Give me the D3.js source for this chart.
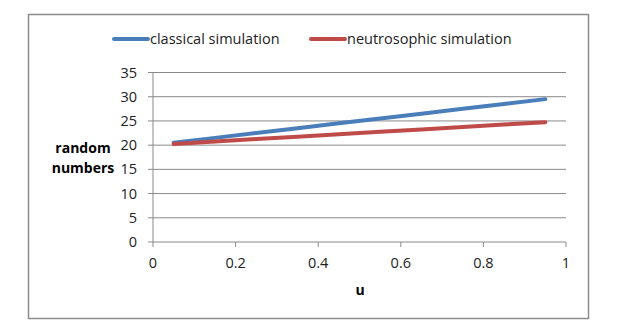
<!DOCTYPE html>
<html lang="en">
<head>
    <meta charset="UTF-8">
    <title>simulation</title>
    <script src="https://cdn.jsdelivr.net/npm/d3@7"></script>
    <style>
        body { margin: 0; background: #fff; }
        text { font-family: "Open Sans", "Liberation Sans", sans-serif; }
    </style>
</head>
<body>
</body>
<script>
    // data
    var uValues = [0.05, 0.15, 0.25, 0.35, 0.45, 0.55, 0.65, 0.75, 0.85, 0.95]
    var classical = [20.5, 21.5, 22.5, 23.5, 24.5, 25.5, 26.5, 27.5, 28.5, 29.5]
    var neutrosophic = [20.25, 20.75, 21.25, 21.75, 22.25, 22.75, 23.25, 23.75, 24.25, 24.75]
    var xTicks = [0, 0.2, 0.4, 0.6, 0.8, 1]
    var yTicks = [0, 5, 10, 15, 20, 25, 30, 35]
    var seriesNames = ['classical simulation', 'neutrosophic simulation']
    var colors = ['#4a7ebb', '#be4b48']

    var width = 623, height = 327

    var svg = d3.select('body')
        .append('svg')
        .attr('width', width)
        .attr('height', height);

    // outer frame
    svg.append('rect')
        .attr('x', 28.5).attr('y', 14.5)
        .attr('width', 560).attr('height', 304)
        .attr('fill', '#fff')
        .attr('stroke', '#8c8c8c')
        .attr('stroke-width', 1.5);

    var x = d3.scaleLinear().domain([0, 1]).range([153, 566])
    var y = d3.scaleLinear().domain([0, 35]).range([242, 72.5])

    // grid lines
    svg.append('g')
        .selectAll('line')
        .data(yTicks)
        .enter().append('line')
        .attr('x1', 148).attr('x2', 566)
        .attr('y1', d => y(d)).attr('y2', d => y(d))
        .attr('stroke', '#8a8a8a')
        .attr('stroke-width', 1);

    // y axis line
    svg.append('line')
        .attr('x1', x(0)).attr('x2', x(0))
        .attr('y1', y(35)).attr('y2', y(0))
        .attr('stroke', '#8a8a8a');

    // x axis ticks
    svg.append('g')
        .selectAll('line')
        .data(xTicks)
        .enter().append('line')
        .attr('x1', d => x(d)).attr('x2', d => x(d))
        .attr('y1', y(0)).attr('y2', y(0) + 5)
        .attr('stroke', '#8a8a8a');

    // tick labels
    svg.append('g')
        .selectAll('text')
        .data(yTicks)
        .enter().append('text')
        .attr('x', 137)
        .attr('y', d => y(d) + 5)
        .attr('text-anchor', 'end')
        .attr('font-size', 14.5)
        .attr('fill', '#222')
        .text(d => d);

    svg.append('g')
        .selectAll('text')
        .data(xTicks)
        .enter().append('text')
        .attr('x', d => x(d))
        .attr('y', 268)
        .attr('text-anchor', 'middle')
        .attr('font-size', 14.5)
        .attr('fill', '#222')
        .text(d => d);

    // axis titles
    svg.append('text')
        .attr('x', 360).attr('y', 295)
        .attr('text-anchor', 'middle')
        .attr('font-size', 14)
        .attr('font-weight', 'bold')
        .text('u');

    var yTitle = svg.append('text')
        .attr('text-anchor', 'middle')
        .attr('font-size', 14)
        .attr('font-weight', 'bold');
    yTitle.append('tspan').attr('x', 83).attr('y', 153).text('random');
    yTitle.append('tspan').attr('x', 83).attr('y', 173).text('numbers');

    // lines
    var line = d3.line()
        .x((d, i) => x(uValues[i]))
        .y(d => y(d));

    [classical, neutrosophic].forEach((s, i) => {
        svg.append('path')
            .datum(s)
            .attr('d', line)
            .attr('fill', 'none')
            .attr('stroke', colors[i])
            .attr('stroke-width', 4)
            .attr('stroke-linecap', 'round');
    });

    // legend
    var legendX = [114, 311]
    seriesNames.forEach((name, i) => {
        svg.append('line')
            .attr('x1', legendX[i]).attr('x2', legendX[i] + 34)
            .attr('y1', 39).attr('y2', 39)
            .attr('stroke', colors[i])
            .attr('stroke-width', 4)
            .attr('stroke-linecap', 'round');
        svg.append('text')
            .attr('x', legendX[i] + 36)
            .attr('y', 44)
            .attr('font-size', 14.5)
            .attr('fill', '#222')
            .text(name);
    });
</script>
</html>
